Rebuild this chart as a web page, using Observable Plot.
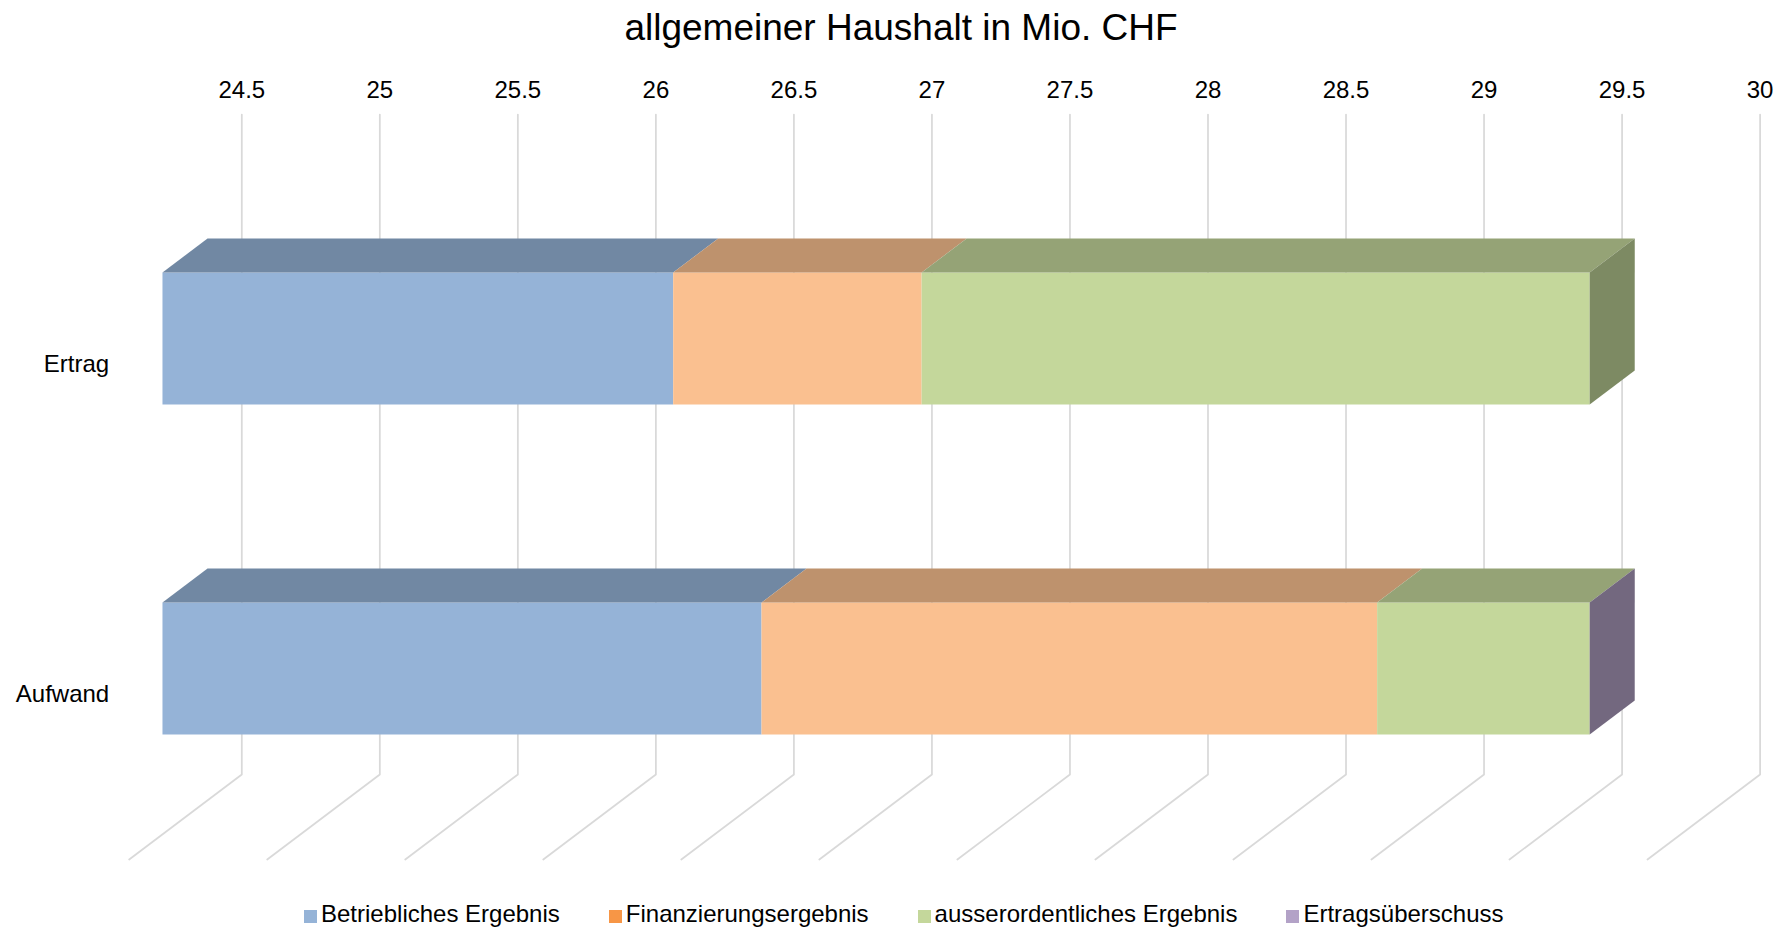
<!DOCTYPE html>
<html><head><meta charset="utf-8">
<script src="https://cdn.jsdelivr.net/npm/d3@7"></script>
<script src="https://cdn.jsdelivr.net/npm/@observablehq/plot@0.6"></script>
<style>
html,body{margin:0;padding:0;background:#fff;overflow:hidden;}
body{width:1784px;height:927px;font-family:"Liberation Sans",Arial,sans-serif;color:#000;}
#title{height:51px;line-height:55px;font-size:37px;text-align:center;padding-left:18px;box-sizing:border-box;white-space:nowrap;overflow:visible;}
#chart{height:844px;}
#legend{height:32px;padding-top:6px;box-sizing:border-box;display:flex;align-items:center;padding-left:304px;font-size:24px;gap:49px;white-space:nowrap;}
.item{display:flex;align-items:center;}
.sw{width:13px;height:13px;margin-right:4px;position:relative;top:2px;}
</style></head><body>
<div id="title"></div><div id="chart"></div><div id="legend"></div>
<script>
// ---- data ----
const chartTitle = "allgemeiner Haushalt in Mio. CHF";
const categories = ["Ertrag", "Aufwand"];
const seriesNames = ["Betriebliches Ergebnis", "Finanzierungsergebnis", "ausserordentliches Ergebnis", "Ertragsüberschuss"];
const betrieblichesErgebnis = [26.35, 26.67];
const finanzierungsergebnis = [0.90, 2.23];
const ausserordentlichesErgebnis = [2.42, 0.77];
const ertragsueberschuss = [null, 0];
const tickValues = [24.5, 25, 25.5, 26, 26.5, 27, 27.5, 28, 28.5, 29, 29.5, 30];
const frontColors = ["#95b3d7", "#fac090", "#c4d79b", "#b3a2c7"];
const legendColors = ["#95b3d7", "#f79646", "#c4d79b", "#b3a2c7"];

// ---- layout / 3D projection ----
const W = 1784, H = 844;
const margin = {top: 63, right: 24.4, bottom: 121, left: 241.3};
const xDomain = [24.5, 30], yDomain = [-0.5, 1.5];
const kx = (W - margin.left - margin.right) / (xDomain[1] - xDomain[0]);
const ky = (H - margin.top - margin.bottom) / (yDomain[1] - yDomain[0]);
const floorDX = 112.6 / kx, floorDY = 85 / ky;   // oblique floor depth in data units
const half = 0.2;                                  // half bar thickness (gap width 150%)
const zBack = 0.3, zFront = 0.7;                   // bar depth inside the floor depth
const shade = (c, k) => { const r = d3.rgb(c); return d3.rgb(r.r * k, r.g * k, r.b * k).formatHex(); };

const seriesValues = [betrieblichesErgebnis, finanzierungsergebnis, ausserordentlichesErgebnis, ertragsueberschuss];
const segments = [];
categories.forEach((cat, i) => {
  let cum = 0;
  seriesValues.forEach((vals, s) => {
    const v = vals[i];
    if (v == null) return;
    segments.push({id: cat + s, cat, row: i, s, start: Math.max(cum, xDomain[0]), end: cum + v});
    cum += v;
  });
});
const lastSegs = categories.map((c, i) => segments.filter(d => d.row === i).at(-1));

const tops = segments.flatMap(d => [zFront, zBack].map(z => ({
  id: d.id, y: d.row - half + z * floorDY,
  x1: d.start - z * floorDX, x2: d.end - z * floorDX, fill: shade(frontColors[d.s], 0.76)
})));
const sides = lastSegs.flatMap(d => [zFront, zBack].map(z => ({
  id: d.id, x: d.end - z * floorDX,
  y1: d.row - half + z * floorDY, y2: d.row + half + z * floorDY, fill: shade(frontColors[d.s], 0.64)
})));
const grid = tickValues.flatMap(t => [
  {t, x: t, y: yDomain[0]}, {t, x: t, y: yDomain[1]}, {t, x: t - floorDX, y: yDomain[1] + floorDY}
]);
const catLabels = categories.map((c, i) => ({c, x: xDomain[0] - floorDX, y: i + floorDY}));

const plot = Plot.plot({
  width: W, height: H,
  marginTop: margin.top, marginRight: margin.right, marginBottom: margin.bottom, marginLeft: margin.left,
  style: {fontFamily: '"Liberation Sans", Arial, sans-serif', fontSize: "24px", color: "#000", background: "#fff", overflow: "visible"},
  x: {domain: xDomain},
  y: {domain: yDomain, reverse: true, axis: null},
  color: {type: "identity"},
  marks: [
    Plot.line(grid, {x: "x", y: "y", z: "t", stroke: "#d9d9d9", strokeWidth: 1.75}),
    Plot.axisX({anchor: "top", ticks: tickValues, tickSize: 0, tickPadding: 17, fontSize: 24, tickFormat: d => String(d)}),
    Plot.rect(segments, {
      x1: d => d.start - zFront * floorDX, x2: d => d.end - zFront * floorDX,
      y1: d => d.row - half + zFront * floorDY, y2: d => d.row + half + zFront * floorDY,
      fill: d => frontColors[d.s]
    }),
    Plot.areaX(tops, {y: "y", x1: "x1", x2: "x2", z: "id", fill: "fill"}),
    Plot.areaY(sides, {x: "x", y1: "y1", y2: "y2", z: "id", fill: "fill"}),
    Plot.text(catLabels, {x: "x", y: "y", text: "c", textAnchor: "end", dx: -20, fontSize: 24, lineAnchor: "middle"})
  ]
});
document.getElementById("chart").appendChild(plot);
document.getElementById("title").textContent = chartTitle;
const legend = document.getElementById("legend");
seriesNames.forEach((n, i) => {
  const it = document.createElement("div"); it.className = "item";
  const sw = document.createElement("span"); sw.className = "sw"; sw.style.background = legendColors[i];
  const tx = document.createElement("span"); tx.textContent = n;
  it.appendChild(sw); it.appendChild(tx); legend.appendChild(it);
});
</script>
</body></html>
